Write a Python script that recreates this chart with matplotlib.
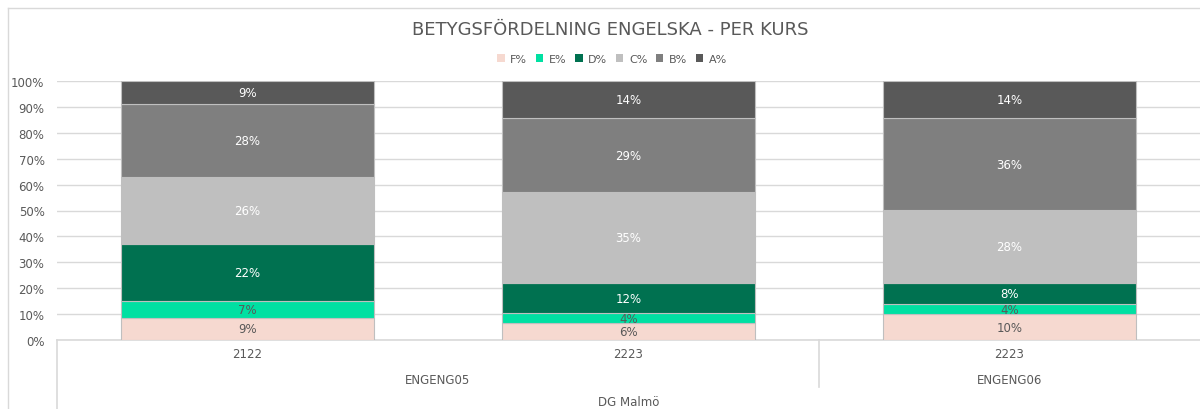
import matplotlib.pyplot as plt
from matplotlib.patches import Patch
from matplotlib.lines import Line2D

plt.rcParams['font.family'] = ['DejaVu Sans']

# data
years = ["2122", "2223", "2223"]
courses = ["ENGENG05", "ENGENG06"]
school = "DG Malmö"
grades = ["F%", "E%", "D%", "C%", "B%", "A%"]
f_pct = [8.6, 6.4, 10.0]
e_pct = [6.6, 4.0, 3.9]
d_pct = [21.9, 11.6, 8.1]
c_pct = [25.8, 35.1, 28.1]
b_pct = [28.2, 28.6, 35.6]
a_pct = [8.9, 14.3, 14.3]

colors = ["#F6D9D0", "#00E0A2", "#007150", "#BFBFBF", "#7F7F7F", "#595959"]
label_colors = ["#595959", "#595959", "white", "white", "white", "white"]
txt = "#595959"
grid = "#D9D9D9"

fig = plt.figure(figsize=(12, 4.1), dpi=100)
ax = fig.add_axes([57 / 1200, 1 - 341 / 410, 1 - 57 / 1200, 259 / 410])

x = list(range(len(years)))
bottom = [0.0] * len(x)
for vals, col, lc, name in zip([f_pct, e_pct, d_pct, c_pct, b_pct, a_pct],
                               colors, label_colors, grades):
    ax.bar(x, vals, width=0.664, bottom=bottom, color=col,
           edgecolor="#BFBFBF", linewidth=0.8, zorder=3, label=name)
    for xi, v, b in zip(x, vals, bottom):
        ax.text(xi, b + v / 2, f"{round(v)}%", ha="center", va="center",
                fontsize=8.5, color=lc, zorder=4)
    bottom = [b + v for b, v in zip(bottom, vals)]

ax.set_xlim(-0.5, 2.5)
ax.set_ylim(0, 100)
ax.set_yticks(range(0, 101, 10))
ax.set_yticklabels([f"{t}%" for t in range(0, 101, 10)], fontsize=8.5, color=txt)
ax.tick_params(axis="y", length=0, pad=9)
ax.set_xticks([])
ax.grid(axis="y", color=grid, linewidth=1, zorder=0)
for s in ["top", "right", "left"]:
    ax.spines[s].set_visible(False)
ax.spines["bottom"].set_color(grid)
ax.spines["bottom"].set_linewidth(1.2)

# multi-level category axis
tr = ax.get_xaxis_transform()
for xi, y in zip(x, years):
    ax.text(xi, -0.054, y, transform=tr, ha="center", va="center",
            fontsize=8.5, color=txt)
ax.text(0.5, -0.151, courses[0], transform=tr, ha="center", va="center",
        fontsize=8.5, color=txt)
ax.text(2.0, -0.151, courses[1], transform=tr, ha="center", va="center",
        fontsize=8.5, color=txt)
ax.text(1.0, -0.239, school, transform=tr, ha="center", va="center",
        fontsize=8.5, color=txt)
ax.add_line(Line2D([-0.5, -0.5], [0, -0.27], transform=tr, color=grid,
                   linewidth=1.2, clip_on=False))
ax.add_line(Line2D([1.5, 1.5], [0, -0.181], transform=tr, color=grid,
                   linewidth=1.2, clip_on=False))

# outer chart border
fig.add_artist(Line2D([8 / 1200, 8 / 1200], [0, 1 - 9 / 410],
                      transform=fig.transFigure, color=grid, linewidth=1))
fig.add_artist(Line2D([8 / 1200, 1], [1 - 9 / 410, 1 - 9 / 410],
                      transform=fig.transFigure, color=grid, linewidth=1))

fig.text(610 / 1200, 1 - 30 / 410, "BETYGSFÖRDELNING ENGELSKA - PER KURS",
         ha="center", va="center", fontsize=13, color=txt)

handles = [Patch(facecolor=c, edgecolor="none") for c in colors]
fig.legend(handles, grades, loc="center", bbox_to_anchor=(612 / 1200, 1 - 60 / 410),
           ncol=6, frameon=False, fontsize=8, handlelength=0.7, handleheight=0.7,
           handletextpad=0.5, columnspacing=0.75, labelcolor=txt)

fig.savefig("out.png", dpi=100)
